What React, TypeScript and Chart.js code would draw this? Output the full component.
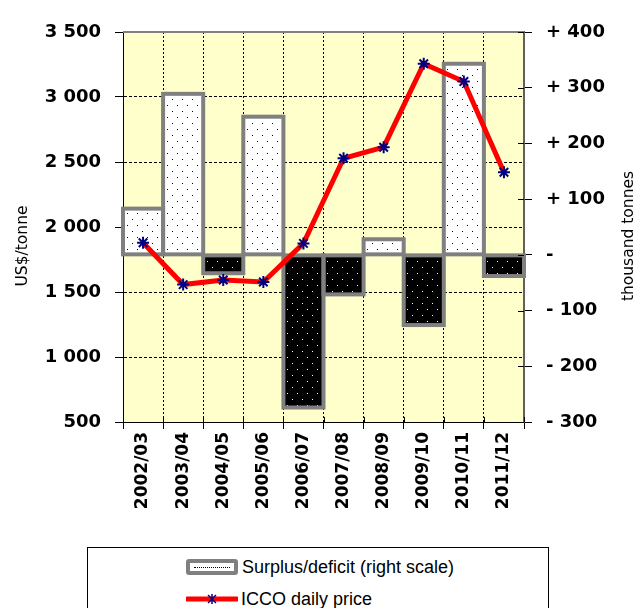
import React, { useEffect, useRef } from 'react';
import { Chart, registerables } from 'chart.js';

Chart.register(...registerables);

const seasons = ['2002/03', '2003/04', '2004/05', '2005/06', '2006/07', '2007/08', '2008/09', '2009/10', '2010/11', '2011/12'];
const surplusDeficit = [83, 289, -33, 248, -274, -71, 28, -126, 343, -38];
const iccoPrice = [1879, 1557, 1592, 1577, 1874, 2529, 2614, 3256, 3119, 2421];

const priceMin = 500;
const priceMax = 3500;
const priceStep = 500;
const balanceMin = -300;
const balanceMax = 400;
const balanceStep = 100;

const leftTitle = 'US$/tonne';
const rightTitle = 'thousand tonnes';
const surplusLabel = 'Surplus/deficit (right scale)';
const priceLabel = 'ICCO daily price';

function dotPattern(bg: string, dot: string) {
  const c = document.createElement('canvas');
  c.width = 10;
  c.height = 12;
  const g = c.getContext('2d')!;
  g.fillStyle = bg;
  g.fillRect(0, 0, 10, 12);
  g.fillStyle = dot;
  g.fillRect(2, 3, 1, 1);
  g.fillRect(7, 9, 1, 1);
  return g.createPattern(c, 'repeat')!;
}

function fmtPrice(v: number) {
  const s = String(v);
  return s.length > 3 ? s.slice(0, s.length - 3) + ' ' + s.slice(s.length - 3) : s;
}

function fmtBalance(v: number) {
  if (v > 0) return '+ ' + v;
  if (v < 0) return '- ' + Math.abs(v);
  return '-';
}

const bgPlugin = {
  id: 'plotBg',
  beforeDraw(chart: any) {
    const { ctx, chartArea } = chart;
    const { left, top, right, bottom } = chartArea;
    ctx.save();
    ctx.fillStyle = '#FFFFCC';
    ctx.fillRect(left, top, right - left, bottom - top);
    ctx.restore();
  },
};

const barBorderPlugin = {
  id: 'barBorders',
  afterDatasetDraw(chart: any, args: any) {
    if (args.index !== 0) return;
    const { ctx } = chart;
    const meta = chart.getDatasetMeta(0);
    ctx.save();
    ctx.strokeStyle = '#808080';
    ctx.lineWidth = 4;
    ctx.lineJoin = 'miter';
    meta.data.forEach((el: any) => {
      const { x, y, base, width } = el.getProps(['x', 'y', 'base', 'width'], true);
      const top = Math.min(y, base);
      const h = Math.abs(base - y);
      ctx.strokeRect(x - width / 2, top, width, h);
    });
    ctx.restore();
  },
};

const decorPlugin = {
  id: 'decor',
  afterDraw(chart: any) {
    const { ctx, chartArea } = chart;
    const { left, top, right, bottom } = chartArea;
    ctx.save();
    ctx.strokeStyle = '#808080';
    ctx.lineWidth = 2;
    ctx.beginPath();
    ctx.moveTo(left, top);
    ctx.lineTo(right, top);
    ctx.stroke();
    const y2 = chart.scales.y2;
    ctx.strokeStyle = '#000';
    ctx.lineWidth = 1;
    y2.ticks.forEach((t: any) => {
      const py = Math.round(y2.getPixelForValue(t.value)) + 0.5;
      ctx.beginPath();
      ctx.moveTo(right - 6, py);
      ctx.lineTo(right, py);
      ctx.stroke();
    });
    const xs = chart.scales.x;
    const half = xs.width / seasons.length / 2;
    for (let i = 0; i <= seasons.length; i++) {
      const px = Math.round(i < seasons.length ? xs.getPixelForTick(i) - half : xs.getPixelForTick(seasons.length - 1) + half) + 0.5;
      ctx.beginPath();
      ctx.moveTo(px, bottom - 5);
      ctx.lineTo(px, bottom);
      ctx.stroke();
    }
    ctx.fillStyle = '#000';
    ctx.font = '15.5px "DejaVu Sans"';
    ctx.textAlign = 'center';
    ctx.textBaseline = 'middle';
    ctx.save();
    ctx.translate(23, 246);
    ctx.rotate(-Math.PI / 2);
    ctx.fillText(leftTitle, 0, 0);
    ctx.restore();
    ctx.save();
    ctx.translate(629, 236);
    ctx.rotate(-Math.PI / 2);
    ctx.fillText(rightTitle, 0, 0);
    ctx.restore();
    ctx.restore();
  },
};

export default function App() {
  const ref = useRef<HTMLCanvasElement>(null);

  useEffect(() => {
    const canvas = ref.current!;
    const whiteDots = dotPattern('#FFFFFF', '#000000');
    const blackDots = dotPattern('#000000', '#FFFFFF');
    const chart = new Chart(canvas, {
      type: 'bar',
      data: {
        labels: seasons,
        datasets: [
          {
            type: 'bar',
            label: surplusLabel,
            data: surplusDeficit,
            yAxisID: 'y2',
            backgroundColor: surplusDeficit.map((v) => (v >= 0 ? whiteDots : blackDots)) as any,
            borderWidth: 0,
            barPercentage: 1,
            categoryPercentage: 1,
            order: 2,
          } as any,
          {
            type: 'line',
            label: priceLabel,
            data: iccoPrice,
            yAxisID: 'y',
            borderColor: '#FF0000',
            borderWidth: 5,
            tension: 0,
            pointStyle: 'star',
            pointRadius: 6,
            pointBorderColor: '#000080',
            pointBackgroundColor: '#000080',
            pointBorderWidth: 2,
            order: 1,
          } as any,
        ],
      },
      options: {
        responsive: false,
        animation: false,
        devicePixelRatio: 1,
        layout: { padding: { top: 32, left: 0, right: 0, bottom: 0 } },
        plugins: {
          legend: { display: false },
          tooltip: { enabled: false },
          title: { display: false },
        },
        scales: {
          x: {
            type: 'category',
            offset: true,
            grid: {
              offset: true,
              color: '#000000',
              lineWidth: 1,
              tickLength: 7,
              tickColor: '#000000',
              tickBorderDash: [],
            },
            border: { display: true, color: '#000000', width: 1, dash: [2, 2] },
            ticks: {
              maxRotation: 90,
              minRotation: 90,
              padding: 3,
              color: '#000000',
              font: { family: 'DejaVu Sans', size: 17, weight: 'bold' },
            },
            afterFit: (s: any) => {
              s.height = 186;
            },
          },
          y: {
            type: 'linear',
            position: 'left',
            min: priceMin,
            max: priceMax,
            ticks: {
              stepSize: priceStep,
              padding: 14,
              color: '#000000',
              font: { family: 'DejaVu Sans', size: 18, weight: 'bold' },
              callback: (v: any) => fmtPrice(Number(v)),
            },
            grid: {
              color: (c: any) => (c.tick && c.tick.value === priceMax ? 'rgba(0,0,0,0)' : '#000000'),
              lineWidth: 1,
              tickLength: 8,
              tickColor: '#000000',
              tickBorderDash: [],
            },
            border: { display: true, color: '#000000', width: 1, dash: [3, 2] },
            afterFit: (s: any) => {
              s.width = 123;
            },
          },
          y2: {
            type: 'linear',
            position: 'right',
            min: balanceMin,
            max: balanceMax,
            ticks: {
              stepSize: balanceStep,
              padding: 14,
              color: '#000000',
              font: { family: 'DejaVu Sans', size: 18, weight: 'bold' },
              callback: (v: any) => fmtBalance(Number(v)),
            },
            grid: {
              drawOnChartArea: false,
              color: '#000000',
              tickLength: 8,
              tickColor: '#000000',
            },
            border: { display: true, color: '#606060', width: 2 },
            afterFit: (s: any) => {
              s.width = 116;
            },
          },
        },
      } as any,
      plugins: [bgPlugin, barBorderPlugin, decorPlugin],
    });
    return () => chart.destroy();
  }, []);

  return (
    <div style={{ position: 'fixed', left: 0, top: 0, width: 640, height: 608, overflow: 'hidden', background: '#FFFFFF' }}>
      <canvas ref={ref} width={640} height={608} style={{ position: 'absolute', left: 0, top: 0 }} />
      <div
        style={{
          position: 'absolute',
          left: 87,
          top: 547,
          width: 460,
          height: 100,
          border: '1px solid #000',
          background: '#FFFFFF',
          fontFamily: '"Liberation Sans", Arial, sans-serif',
          fontSize: 18,
          color: '#000',
        }}
      >
        <div style={{ position: 'absolute', left: 98, top: 8, height: 22, display: 'flex', alignItems: 'center' }}>
          <div
            style={{
              width: 44,
              height: 8,
              border: '4px solid #808080',
              borderRadius: 3,
              background: '#FFFFFF',
              display: 'flex',
              alignItems: 'center',
              justifyContent: 'center',
              marginRight: 4,
            }}
          >
            <div style={{ width: 36, height: 0, borderTop: '1px dotted #000' }} />
          </div>
          <span style={{ lineHeight: '22px' }}>{surplusLabel}</span>
        </div>
        <div style={{ position: 'absolute', left: 98, top: 40, height: 22, display: 'flex', alignItems: 'center' }}>
          <svg width={52} height={14} style={{ marginRight: 3 }}>
            <line x1={1} y1={7} x2={51} y2={7} stroke="#FF0000" strokeWidth={5} strokeLinecap="round" />
            <line x1={26} y1={2} x2={26} y2={12} stroke="#000080" strokeWidth={1.5} />
            <line x1={22} y1={3} x2={30} y2={11} stroke="#000080" strokeWidth={1.5} />
            <line x1={30} y1={3} x2={22} y2={11} stroke="#000080" strokeWidth={1.5} />
          </svg>
          <span style={{ lineHeight: '22px' }}>{priceLabel}</span>
        </div>
      </div>
    </div>
  );
}
